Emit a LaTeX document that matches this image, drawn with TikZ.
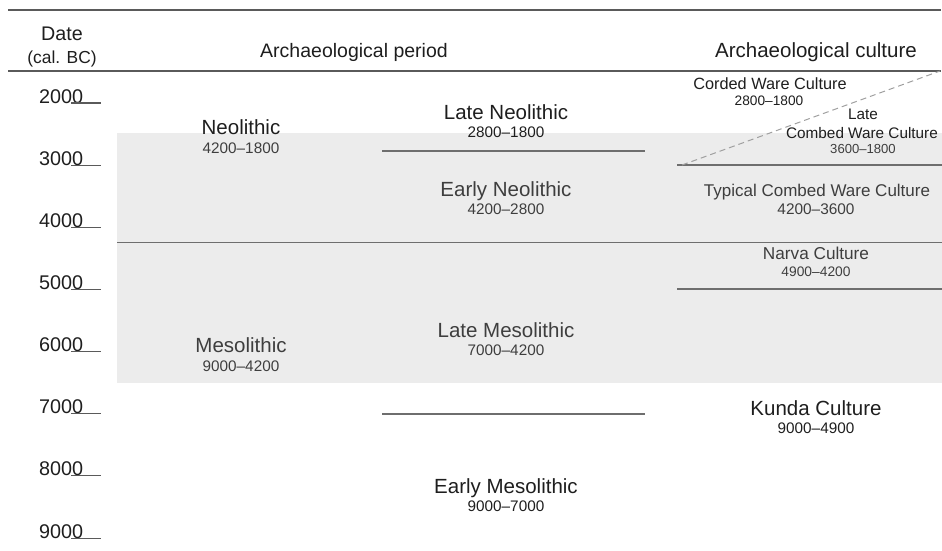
\documentclass[tikz,border=0pt]{standalone}
\usepackage{fontspec}
\setmainfont{Liberation Sans}
\definecolor{bandgray}{HTML}{ECECEC}
\definecolor{rule}{HTML}{6E6E6E}
\definecolor{darkrule}{HTML}{5A5A5A}
\definecolor{txt}{HTML}{1E1E1E}
\definecolor{txtin}{HTML}{3E3E3E}
\definecolor{dashc}{HTML}{A0A0A0}
\newcommand{\fs}[1]{\fontsize{#1}{#1}\selectfont}
\tikzset{
  lbl/.style={inner sep=0pt, anchor=base, text=txt},
  lblin/.style={inner sep=0pt, anchor=base, text=txtin},
  big/.style={font=\fs{20.5}},
  sml/.style={font=\fs{15.3}},
  yearlbl/.style={inner sep=0pt, anchor=base west, text=txt, font=\fs{19.8}},
  tick/.style={draw=darkrule, line width=1.1pt},
  divider/.style={draw=rule, line width=1.3pt},
  frame/.style={draw=darkrule, line width=1.5pt},
}
\begin{document}
\begin{tikzpicture}[x=1pt, y=-1pt]
\useasboundingbox (0,0) rectangle (942,550);
% shaded band
\fill[bandgray] (117,133) rectangle (942,383);
% frame lines
\coordinate (tl) at (8,10);  \coordinate (tr) at (941,10);
\coordinate (hl) at (8,71);  \coordinate (hr) at (941,71);
\draw[frame] (tl) -- (tr);
\draw[frame] (hl) -- (hr);
% headers
\node[lbl, font=\fs{19.7}] (date) at (62,40) {Date};
\node[lbl, font=\fs{17.4}] (calbc) at (62,63) {(cal. BC)};
\node[lbl, font=\fs{19.5}] (hperiod) at (354,57) {Archaeological period};
\node[lbl, font=\fs{20.5}] (hculture) at (816,57) {Archaeological culture};
% year axis
\foreach \yr [count=\i from 0] in {2000,3000,4000,5000,6000,7000,8000,9000}{
  \pgfmathsetmacro{\yy}{103+62.15*\i}
  \node[yearlbl] (y\yr) at (39,\yy) {\yr};
  \coordinate (ta\yr) at (71,\yy);
  \coordinate (tb\yr) at (101,\yy);
  \draw[tick] (ta\yr) -- (tb\yr);
}
% dividers
\coordinate (nm1) at (117,242.5); \coordinate (nm2) at (942,242.5);
\draw[divider] (nm1) -- (nm2);
\coordinate (ln1) at (382,151); \coordinate (ln2) at (645,151);
\draw[divider] (ln1) -- (ln2);
\coordinate (lm1) at (382,414); \coordinate (lm2) at (645,414);
\draw[divider] (lm1) -- (lm2);
\coordinate (cw1) at (677,165); \coordinate (cw2) at (942,165);
\draw[divider] (cw1) -- (cw2);
\coordinate (nk1) at (677,289); \coordinate (nk2) at (942,289);
\draw[divider] (nk1) -- (nk2);
\coordinate (ds1) at (682,165); \coordinate (ds2) at (940,71);
\draw[draw=dashc, line width=1pt, dash pattern=on 6pt off 4pt] (ds1) -- (ds2);
% periods
\node[lbl, big] (neo) at (241,134.5) {Neolithic};
\node[lblin, sml] (neod) at (241,153.5) {4200–1800};
\node[lblin, big] (meso) at (241,352.5) {Mesolithic};
\node[lblin, sml] (mesod) at (241,371.5) {9000–4200};
\node[lbl, big] (lneo) at (506,119.5) {Late Neolithic};
\node[lbl, sml] (lneod) at (506,137.5) {2800–1800};
\node[lblin, big] (eneo) at (506,196.5) {Early Neolithic};
\node[lblin, sml] (eneod) at (506,214.5) {4200–2800};
\node[lblin, big] (lmeso) at (506,337.5) {Late Mesolithic};
\node[lblin, sml] (lmesod) at (506,355.5) {7000–4200};
\node[lbl, big] (emeso) at (506,493.5) {Early Mesolithic};
\node[lbl, sml] (emesod) at (506,511.5) {9000–7000};
% cultures
\node[lbl, font=\fs{16.3}] (corded) at (770,89) {Corded Ware Culture};
\node[lbl, font=\fs{13.7}] (cordedd) at (769,105) {2800–1800};
\node[lbl, font=\fs{15.3}] (lcw1) at (863,119.5) {Late};
\node[lbl, font=\fs{15.3}] (lcw2) at (862,138.5) {Combed Ware Culture};
\node[lblin, font=\fs{13.1}] (lcwd) at (863,153.7) {3600–1800};
\node[lblin, font=\fs{17}] (tcw) at (817,196) {Typical Combed Ware Culture};
\node[lblin, font=\fs{15.4}] (tcwd) at (816,214.5) {4200–3600};
\node[lblin, font=\fs{17.2}] (narva) at (816,259) {Narva Culture};
\node[lblin, font=\fs{13.8}] (narvad) at (816,276) {4900–4200};
\node[lbl, big] (kunda) at (816,415.5) {Kunda Culture};
\node[lbl, sml] (kundad) at (816,433.5) {9000–4900};
\end{tikzpicture}
\end{document}
